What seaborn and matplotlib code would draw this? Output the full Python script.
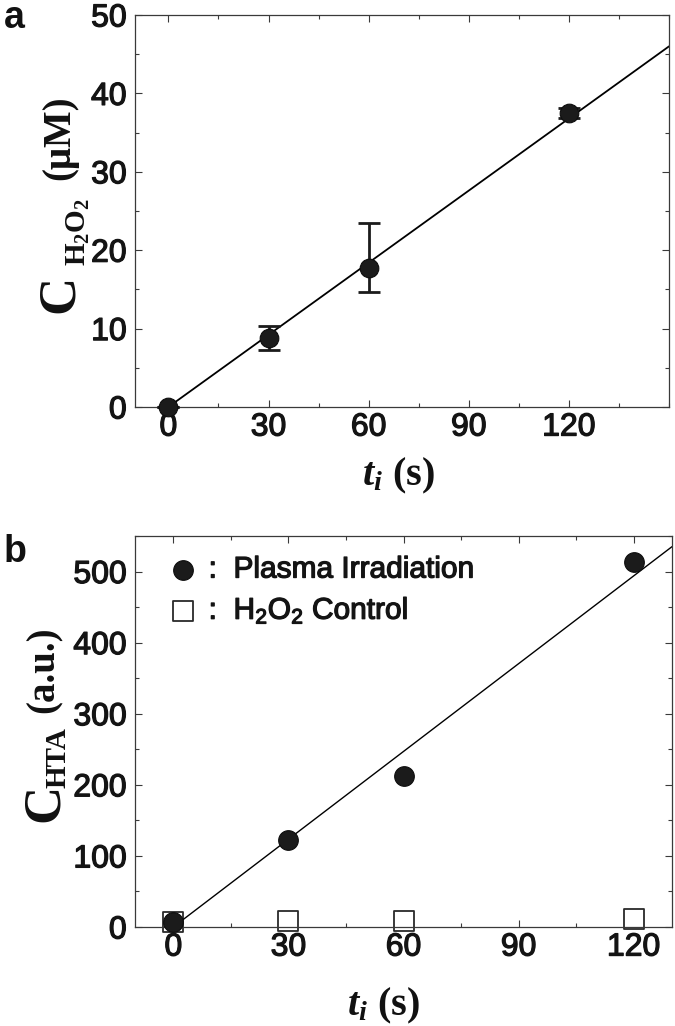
import numpy as np
import pandas as pd
import seaborn as sns
import matplotlib
matplotlib.use("Agg")
import matplotlib.pyplot as plt
import matplotlib.patheffects as pe
from matplotlib.ticker import MultipleLocator

# ---------------- data ----------------
# panel a : H2O2 concentration
t_a = [0, 30, 60, 120]
c_h2o2 = [0.0, 8.8, 17.7, 37.5]
c_h2o2_low = [0.0, 7.3, 14.7, 36.8]
c_h2o2_high = [0.0, 10.3, 23.5, 38.2]
fit_a_t = [0, 150]
fit_a_c = [0.0, 46.0]

# panel b : HTA concentration
t_b = [0, 30, 60, 120]
c_hta_plasma = [7, 122, 213, 513]
c_hta_control = [7, 8, 8, 11]
fit_b_t = [0, 130]
fit_b_c = [0.0, 535.0]

x_ticks = [0, 30, 60, 90, 120]
y_ticks_a = [0, 10, 20, 30, 40, 50]
y_ticks_b = [0, 100, 200, 300, 400, 500]
legend_labels = [":  Plasma Irradiation", ":  H$_2$O$_2$ Control"]

# ---------------- style ----------------
sns.set_theme(style="ticks")
plt.rcParams["font.family"] = ["Liberation Sans", "DejaVu Sans"]
plt.rcParams["mathtext.fontset"] = "custom"
plt.rcParams["mathtext.rm"] = "Liberation Serif:bold"
plt.rcParams["mathtext.it"] = "Liberation Serif:italic:bold"
plt.rcParams["mathtext.bf"] = "Liberation Serif:bold"
plt.rcParams["mathtext.default"] = "regular"

W, H = 675, 1026
fig = plt.figure(figsize=(W / 100, H / 100), dpi=100)


def ax_rect(l, t, r, b):
    return [l / W, 1 - b / H, (r - l) / W, (b - t) / H]


def fpos(x, y):
    return x / W, 1 - y / H


ax_a = fig.add_axes(ax_rect(135, 15, 669, 407))
ax_b = fig.add_axes(ax_rect(135, 536, 672, 927))

ink = "#1b1b1b"
axis_col = "#3a3a3a"
txt_col = "#141414"
medium = [pe.withStroke(linewidth=0.9, foreground=txt_col)]

# ---------------- panel a ----------------
df_a = pd.DataFrame({"t": t_a, "c": c_h2o2, "lo": c_h2o2_low, "hi": c_h2o2_high})
sns.lineplot(x=fit_a_t, y=fit_a_c, ax=ax_a, color="black", lw=1.3, zorder=2)
ax_a.errorbar(df_a["t"], df_a["c"],
              yerr=[df_a["c"] - df_a["lo"], df_a["hi"] - df_a["c"]],
              fmt="none", ecolor=ink, elinewidth=2.0, capsize=8, capthick=2.0,
              zorder=3, clip_on=False)
sns.scatterplot(data=df_a, x="t", y="c", ax=ax_a, s=180, color=ink,
                edgecolor="#0d0d0d", linewidth=0.8, zorder=4, clip_on=False)
ax_a.set_xlim(-10, 150)
ax_a.set_ylim(0, 50)
ax_a.set_xticks(x_ticks)
ax_a.set_yticks(y_ticks_a)
ax_a.xaxis.set_minor_locator(MultipleLocator(15))
ax_a.yaxis.set_minor_locator(MultipleLocator(5))

# ---------------- panel b ----------------
df_b = pd.DataFrame({"t": t_b, "plasma": c_hta_plasma, "control": c_hta_control})
sns.lineplot(x=fit_b_t, y=fit_b_c, ax=ax_b, color="black", lw=1.0, zorder=2)
sns.scatterplot(data=df_b, x="t", y="control", ax=ax_b, marker="s", s=190,
                facecolor="white", edgecolor="#2a2a2a", linewidth=1.3,
                zorder=1.5, clip_on=False, label=legend_labels[1])
sns.scatterplot(data=df_b, x="t", y="plasma", ax=ax_b, s=200, color=ink,
                edgecolor="#0d0d0d", linewidth=0.8, zorder=4, clip_on=False,
                label=legend_labels[0])
ax_b.set_xlim(-10, 130)
ax_b.set_ylim(0, 550)
ax_b.set_xticks(x_ticks)
ax_b.set_yticks(y_ticks_b)
ax_b.xaxis.set_minor_locator(MultipleLocator(15))
ax_b.yaxis.set_minor_locator(MultipleLocator(50))

handles, labels = ax_b.get_legend_handles_labels()
order = [labels.index(legend_labels[0]), labels.index(legend_labels[1])]
leg = ax_b.legend([handles[i] for i in order], [labels[i] for i in order],
                  loc="upper left", bbox_to_anchor=(0.062, 0.95),
                  frameon=False, borderpad=0, borderaxespad=0,
                  handlelength=1.0, handletextpad=0.35, labelspacing=0.38,
                  prop={"family": "Liberation Sans", "size": 21.5})
for txt in leg.get_texts():
    txt.set_color(txt_col)
    txt.set_path_effects(medium)

# ---------------- common axis styling ----------------
for ax in (ax_a, ax_b):
    ax.set_xlabel("")
    ax.set_ylabel("")
    for sp in ax.spines.values():
        sp.set_visible(True)
        sp.set_color(axis_col)
        sp.set_linewidth(0.9)
    ax.tick_params(which="both", direction="in", top=True, right=True,
                   color=axis_col, width=0.8)
    ax.tick_params(which="major", length=5, labelsize=23, labelcolor=txt_col)
    ax.tick_params(which="minor", length=2.6)
    ax.tick_params(axis="y", which="major", pad=6)
    ax.tick_params(axis="x", which="major", pad=4)
    for lab in ax.get_xticklabels() + ax.get_yticklabels():
        lab.set_path_effects(medium)

# ---------------- axis titles (built from pieces) ----------------
serif = dict(family="Liberation Serif", weight="bold", color="#111111",
             rotation=90, rotation_mode="anchor", ha="left", va="baseline")

# panel a y label : C_{H2O2} (uM)
fig.text(*fpos(73, 313), "C", size=38, **serif)
fig.text(*fpos(86, 266), "H$_2$O$_2$", size=21, **serif)
fig.text(*fpos(69, 180), "(\u03bcM)", size=28, **serif)

# panel b y label : C_{HTA} (a.u.)
fig.text(*fpos(58, 822), "C", size=38, **serif)
fig.text(*fpos(66, 788), "HTA", size=21, **serif)
fig.text(*fpos(54, 713), "(a.u.)", size=28, **serif)

xlab = dict(family="Liberation Serif", weight="bold", color="#111111",
            ha="center", va="baseline", size=29)
fig.text(*fpos(398, 485), r"$\mathit{t}_{\mathit{i}}$ (s)", **xlab)
fig.text(*fpos(383, 1015), r"$\mathit{t}_{\mathit{i}}$ (s)", **xlab)

# panel letters
fig.text(*fpos(4, 28), "a", size=27, weight="bold", color="#111111",
         family="Liberation Sans", va="baseline", ha="left")
fig.text(*fpos(4, 562), "b", size=27, weight="bold", color="#111111",
         family="Liberation Sans", va="baseline", ha="left")

fig.savefig("out.png", dpi=100)
